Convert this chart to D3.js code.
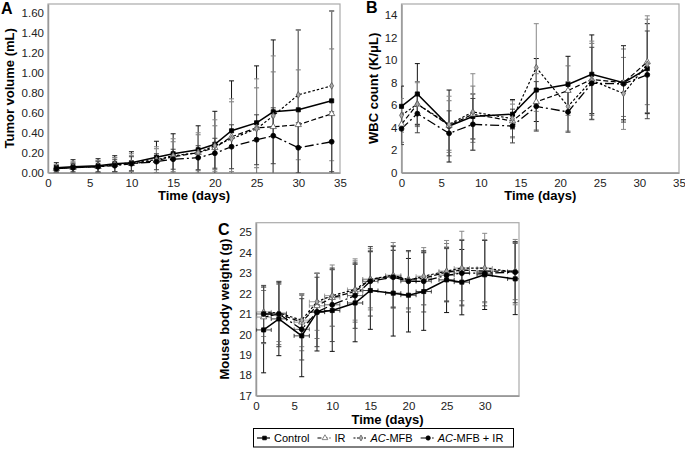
<!DOCTYPE html>
<html><head><meta charset="utf-8">
<script src="https://cdn.jsdelivr.net/npm/d3@7"></script>
<style>body{margin:0;background:#fff}svg{display:block;font-family:"Liberation Sans",Arial,sans-serif}</style>
</head><body>
<svg id="c" width="685" height="451"></svg>
<script>
// ---------- DATA ----------
const seriesNames = ["Control", "IR", "AC-MFB", "AC-MFB + IR"];

// Panel A: tumor volume (mL)
const timeA = [1,3,6,8,10,13,15,18,20,22,25,27,30,34];
const tumorControl = [0.05,0.06,0.07,0.09,0.10,0.155,0.19,0.23,0.285,0.42,0.50,0.61,0.63,0.72];
const tumorIR      = [0.04,0.05,0.06,0.08,0.09,0.12,0.16,0.20,0.25,0.36,0.45,0.46,0.48,0.59];
const tumorACMFB   = [0.04,0.05,0.06,0.08,0.10,0.13,0.17,0.20,0.27,0.34,0.44,0.57,0.78,0.87];
const tumorACIR    = [0.04,0.05,0.06,0.07,0.09,0.11,0.135,0.15,0.195,0.26,0.33,0.37,0.25,0.31];
const tumorControlSD = [0.05,0.07,0.07,0.08,0.11,0.16,0.20,0.24,0.33,0.50,0.57,0.72,0.80,0.90];
const tumorIRSD      = [0.04,0.05,0.06,0.07,0.08,0.12,0.15,0.18,0.22,0.35,0.40,0.55,0.55,0.65];
const tumorACMFBSD   = [0.04,0.06,0.06,0.07,0.09,0.13,0.17,0.20,0.26,0.40,0.50,0.60,0.65,0.75];
const tumorACIRSD    = [0.03,0.04,0.05,0.06,0.07,0.08,0.10,0.12,0.15,0.22,0.25,0.28,0.25,0.30];
const ticksAx = [0,5,10,15,20,25,30,35];
const ticksAy = [0,0.2,0.4,0.6,0.8,1.0,1.2,1.4,1.6];

// Panel B: WBC count (K/uL)
const timeB = [0,2,6,9,14,17,21,24,28,31];
const wbcControl = [5.9,7.0,4.15,5.0,5.2,7.35,7.85,8.75,8.0,9.25];
const wbcIR      = [4.3,6.1,4.2,5.2,4.6,6.3,7.3,8.3,8.0,9.85];
const wbcACMFB   = [5.1,6.1,4.3,5.4,4.8,9.35,5.9,8.2,7.05,9.65];
const wbcACIR    = [3.9,5.25,3.5,4.3,4.15,5.9,5.4,7.95,7.9,8.7];
const wbcControlSD = [1.8,2.7,3.2,2.0,1.3,2.8,2.5,3.5,3.3,4.0];
const wbcIRSD      = [1.6,2.0,2.2,2.5,1.5,2.5,2.2,3.2,3.0,3.8];
const wbcACMFBSD   = [1.5,1.9,2.5,3.4,1.6,3.9,2.2,3.5,3.2,4.3];
const wbcACIRSD    = [1.4,1.7,2.0,2.3,1.5,2.2,1.8,3.2,3.4,3.9];
const ticksBx = [0,5,10,15,20,25,30,35];
const ticksBy = [0,2,4,6,8,10,12,14];

// Panel C: mouse body weight (g)
const timeC = [1,3,6,8,10,13,15,18,20,22,25,27,30,34];
const bwControl = [20.22,20.76,19.93,21.09,21.17,21.54,22.15,22.02,21.92,22.1,22.67,22.56,22.92,22.72];
const bwIR      = [20.85,21.0,20.6,21.4,21.8,22.1,22.7,22.85,22.7,22.75,23.05,23.15,23.1,23.1];
const bwACMFB   = [21.1,21.05,20.7,21.6,21.9,22.2,22.7,22.9,22.65,22.85,23.1,23.25,23.25,23.05];
const bwACIR    = [21.0,21.0,20.25,21.1,21.45,21.9,22.6,22.8,22.6,22.6,22.9,23.0,23.0,23.05];
const bwControlSD = [2.1,1.8,2.0,1.9,2.0,1.9,1.9,2.1,1.8,1.9,1.6,1.6,1.7,1.75];
const bwIRSD      = [1.3,1.5,1.4,1.6,1.4,1.5,1.4,1.5,1.4,1.3,1.4,1.5,1.5,1.4];
const bwACMFBSD   = [1.2,1.4,1.3,1.4,1.5,1.5,1.5,1.6,1.4,1.4,1.5,1.8,1.7,1.6];
const bwACIRSD    = [1.4,1.6,1.5,1.7,1.8,1.6,1.7,1.5,1.5,1.5,1.3,1.6,1.6,1.5];
const bwTimeErr   = [1,1,1,1,1,1,1,1,1,1,1,1,1,1];
const ticksCx = [0,5,10,15,20,25,30];
const ticksCy = [17,18,19,20,21,22,23,24,25];

// ---------- STYLES ----------
const styles = [
  {dash:null, legDash:null, width:1.5, sym:d3.symbolSquare, size:17, fill:"#000", stroke:"#000", err:"#111"},
  {dash:"5,2.5", legDash:"4,2", width:1.2, sym:d3.symbolTriangle, size:17, fill:"#fff", stroke:"#555", err:"#777"},
  {dash:"2.5,2", legDash:"2,1.5", width:1.2, sym:d3.symbolDiamond, size:13, fill:"#aaa", stroke:"#555", err:"#888"},
  {dash:"9,3,2,3", legDash:"6,2,1.5,2", width:1.3, sym:d3.symbolCircle, size:19, fill:"#000", stroke:"#000", err:"#444"}
];

const svg = d3.select("#c");
let clipId = 0;

function panel(cfg){
  const x = d3.scaleLinear().domain(cfg.xd).range(cfg.xr);
  const y = d3.scaleLinear().domain(cfg.yd).range(cfg.yr);
  const g = svg.append("g");
  const id = "clip" + (clipId++);
  svg.append("clipPath").attr("id", id).append("rect")
    .attr("x", cfg.xr[0]).attr("y", cfg.yr[1]-2)
    .attr("width", cfg.xr[1]-cfg.xr[0]).attr("height", cfg.yr[0]-cfg.yr[1]+2);
  g.append("rect").attr("x", cfg.xr[0]).attr("y", cfg.yr[1])
    .attr("width", cfg.xr[1]-cfg.xr[0]).attr("height", cfg.yr[0]-cfg.yr[1])
    .attr("fill","none").attr("stroke","#aaa").attr("stroke-width",1.2);
  const ax = g.append("g").attr("transform",`translate(0,${cfg.yr[0]})`)
    .call(d3.axisBottom(x).tickValues(cfg.xt).tickSize(0).tickPadding(6).tickFormat(d3.format("d")));
  const ay = g.append("g").attr("transform",`translate(${cfg.xr[0]},0)`)
    .call(d3.axisLeft(y).tickValues(cfg.yt).tickSize(0).tickPadding(4).tickFormat(cfg.yf));
  [ax, ay].forEach(a=>{
    a.select(".domain").attr("stroke","#999").attr("stroke-width",1.5);
    a.selectAll("text").attr("font-size",11.5).attr("fill","#222")
      .attr("font-family",'"Liberation Sans",Arial,sans-serif');
  });
  g.append("text").attr("x",(cfg.xr[0]+cfg.xr[1])/2).attr("y",cfg.xTitleY)
    .attr("text-anchor","middle").attr("font-weight","bold").attr("font-size",13)
    .text("Time (days)");
  g.append("text").attr("transform",`translate(${cfg.yTitleX},${(cfg.yr[0]+cfg.yr[1])/2}) rotate(-90)`)
    .attr("text-anchor","middle").attr("font-weight","bold").attr("font-size",13)
    .text(cfg.yTitle);
  g.append("text").attr("x",cfg.letter[0]).attr("y",cfg.letter[1])
    .attr("font-weight","bold").attr("font-size",16).text(cfg.letterText);

  const eg = g.append("g").attr("clip-path",`url(#${id})`);
  cfg.series.forEach((s,i)=>{
    const st = styles[i];
    s.v.forEach((v,j)=>{
      const t = cfg.t[j], sd = s.sd[j];
      const cx = x(t), y1 = y(v+sd), y2 = y(v-sd);
      eg.append("line").attr("x1",cx).attr("x2",cx).attr("y1",y1).attr("y2",y2)
        .attr("stroke",st.err).attr("stroke-width",1);
      [y1,y2].forEach(yy=>eg.append("line").attr("x1",cx-2.5).attr("x2",cx+2.5)
        .attr("y1",yy).attr("y2",yy).attr("stroke",st.err).attr("stroke-width",1));
      if (cfg.xerr){
        const xe = cfg.xerr[j], cy = y(v);
        const x1 = x(t-xe), x2 = x(t+xe);
        eg.append("line").attr("x1",x1).attr("x2",x2).attr("y1",cy).attr("y2",cy)
          .attr("stroke",st.err).attr("stroke-width",0.8);
        [x1,x2].forEach(xx=>eg.append("line").attr("x1",xx).attr("x2",xx)
          .attr("y1",cy-2).attr("y2",cy+2).attr("stroke",st.err).attr("stroke-width",0.8));
      }
    });
  });
  const line = d3.line().x((d)=>x(d[0])).y((d)=>y(d[1]));
  cfg.series.forEach((s,i)=>{
    const st = styles[i];
    g.append("path").datum(cfg.t.map((t,j)=>[t,s.v[j]])).attr("d",line)
      .attr("fill","none").attr("stroke","#000").attr("stroke-width",st.width)
      .attr("stroke-dasharray",st.dash);
  });
  cfg.series.forEach((s,i)=>{
    const st = styles[i];
    const sym = d3.symbol().type(st.sym).size(st.size);
    s.v.forEach((v,j)=>{
      g.append("path").attr("d",sym()).attr("transform",`translate(${x(cfg.t[j])},${y(v)})`)
        .attr("fill",st.fill).attr("stroke",st.stroke).attr("stroke-width",0.8);
    });
  });
}

panel({xd:[0,35], xr:[48,340], yd:[0,1.69], yr:[172.7,4], xt:ticksAx, yt:ticksAy,
  yf:d3.format(".2f"), t:timeA, xTitleY:200, yTitleX:14, yTitle:"Tumor volume (mL)",
  letter:[1,14], letterText:"A",
  series:[{v:tumorControl,sd:tumorControlSD},{v:tumorIR,sd:tumorIRSD},
          {v:tumorACMFB,sd:tumorACMFBSD},{v:tumorACIR,sd:tumorACIRSD}]});

panel({xd:[0,35], xr:[401.5,679], yd:[0,15], yr:[172.7,4], xt:ticksBx, yt:ticksBy,
  yf:d3.format("d"), t:timeB, xTitleY:200, yTitleX:378, yTitle:"WBC count (K/\u03BCL)",
  letter:[366,13], letterText:"B",
  series:[{v:wbcControl,sd:wbcControlSD},{v:wbcIR,sd:wbcIRSD},
          {v:wbcACMFB,sd:wbcACMFBSD},{v:wbcACIR,sd:wbcACIRSD}]});

panel({xd:[0,34.5], xr:[256,519], yd:[17,25.47], yr:[395.7,222.7], xt:ticksCx, yt:ticksCy,
  yf:d3.format("d"), t:timeC, xTitleY:424, yTitleX:229, yTitle:"Mouse body weight (g)",
  letter:[218,235], letterText:"C", xerr:bwTimeErr,
  series:[{v:bwControl,sd:bwControlSD},{v:bwIR,sd:bwIRSD},
          {v:bwACMFB,sd:bwACMFBSD},{v:bwACIR,sd:bwACIRSD}]});

// ---------- LEGEND ----------
const lg = svg.append("g");
lg.append("rect").attr("x",253.5).attr("y",428.5).attr("width",260).attr("height",18.5)
  .attr("fill","#fff").attr("stroke","#000").attr("stroke-width",1);
const ly = 438;
let cur = 257;
seriesNames.forEach((n,i)=>{
  const st = styles[i];
  const x0 = cur, x1 = cur + 13;
  lg.append("line").attr("x1",x0).attr("x2",x1).attr("y1",ly).attr("y2",ly)
    .attr("stroke","#000").attr("stroke-width",1.2).attr("stroke-dasharray",st.legDash);
  lg.append("path").attr("d",d3.symbol().type(st.sym).size(st.size*0.8)())
    .attr("transform",`translate(${(x0+x1)/2+1},${ly})`)
    .attr("fill",st.fill).attr("stroke",st.stroke).attr("stroke-width",0.7);
  const t = lg.append("text").attr("x",x1+4).attr("y",442).attr("font-size",11);
  if (n.startsWith("AC")){
    t.append("tspan").attr("font-style","italic").text("AC");
    t.append("tspan").text(n.slice(2));
  } else t.text(n);
  cur = x1 + 4 + t.node().getComputedTextLength() + 8;
});
</script>
</body></html>
